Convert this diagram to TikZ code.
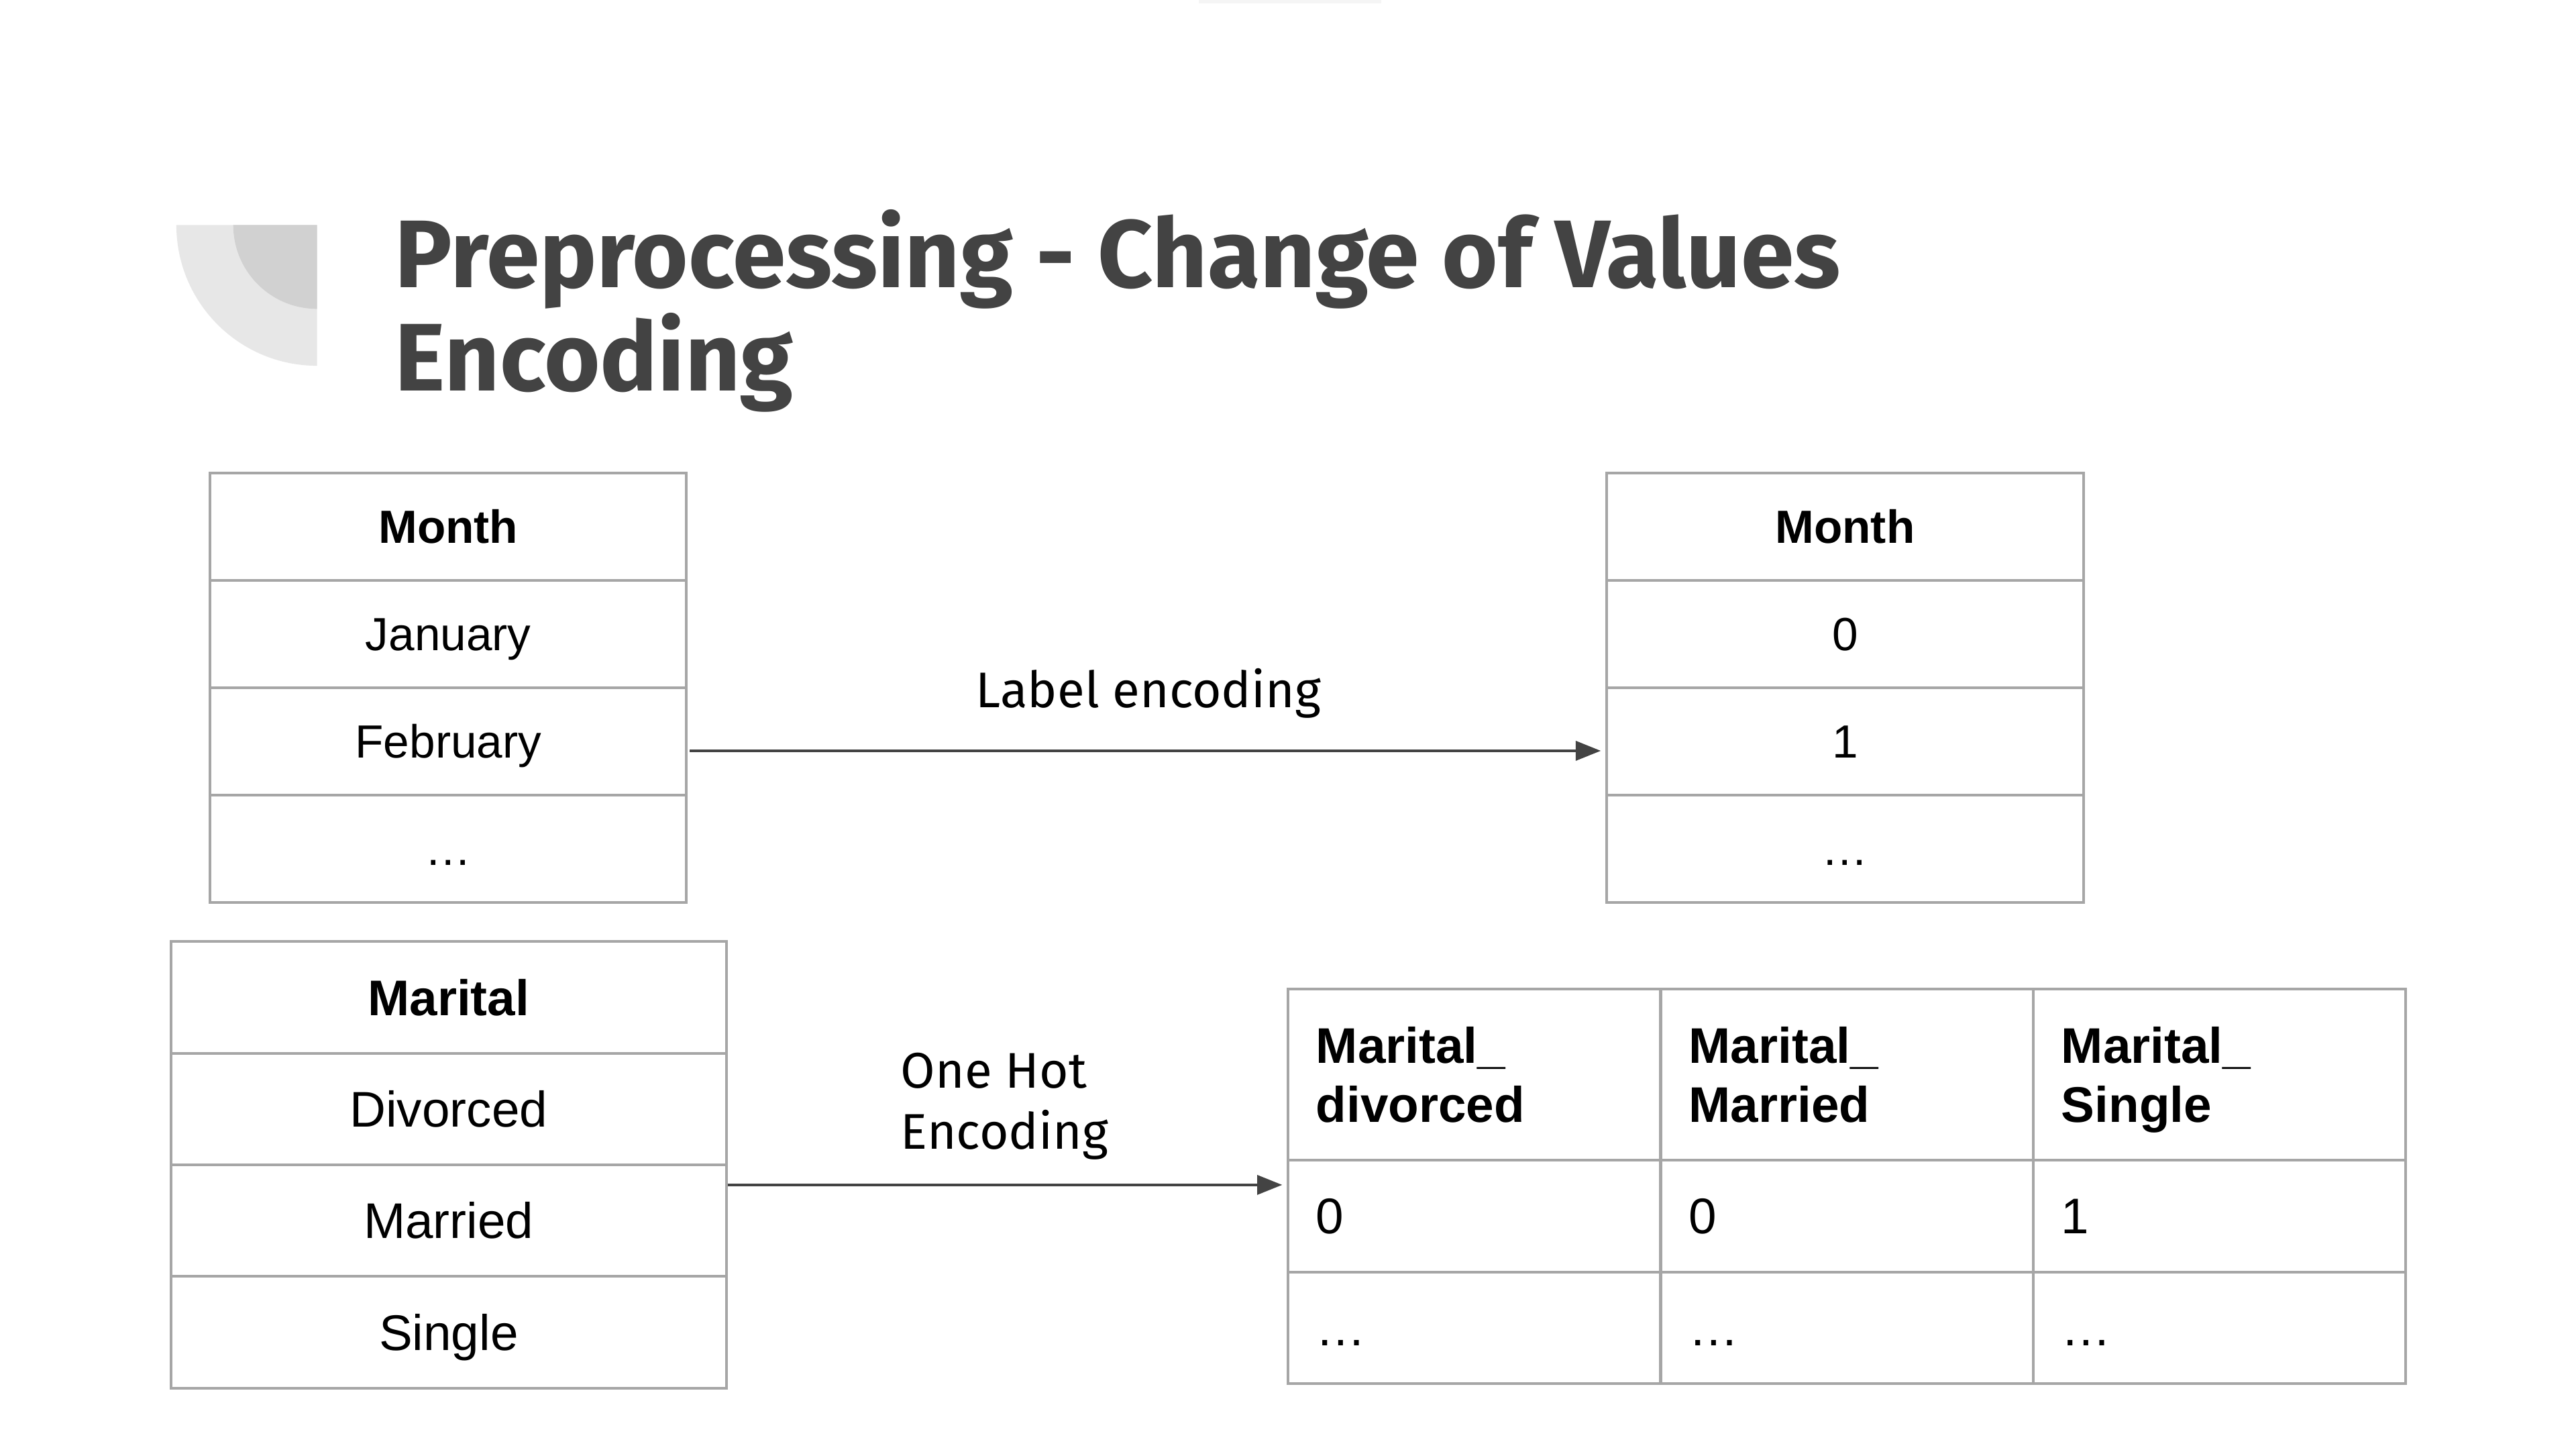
\documentclass[tikz,border=0pt]{standalone}
\usepackage{fontspec}
\setmainfont{Liberation Sans}
\newfontfamily\enctitlefont{Fira Sans}
\newfontfamily\enclabelfont{Fira Sans}
\usetikzlibrary{arrows.meta,positioning}
\definecolor{EncInk}{RGB}{67,67,67}
\definecolor{EncGrid}{RGB}{166,166,166}
\definecolor{EncDecoLight}{RGB}{231,231,231}
\definecolor{EncDecoDark}{RGB}{209,209,209}
\tikzset{
  enc/cell/.style={
    draw=EncGrid,
    line width=0.75pt,
    fill=white,
    inner sep=0pt,
    align=center,
    text=black,
    text height=9.3pt,
    text depth=0pt,
    font=\fontsize{13}{15}\selectfont
  },
  enc/head/.style={enc/cell, font=\fontsize{13}{15}\selectfont\bfseries},
  enc/monthcol/.style={minimum width=133.2pt, minimum height=30pt},
  enc/maritalcol/.style={minimum width=155.2pt, minimum height=31.2pt, text height=10pt, font=\fontsize{14}{16}\selectfont},
  enc/ohcell/.style={
    enc/cell,
    align=left,
    text width=88.5pt,
    inner xsep=7.8pt,
    minimum height=31.2pt,
    text height=10pt,
    font=\fontsize{14}{16.5}\selectfont
  },
  enc/ohhead/.style={enc/ohcell, minimum height=47.8pt, text depth=16.5pt, font=\fontsize{14}{16.5}\selectfont\bfseries},
  enc/arrow/.style={-{Triangle[length=7pt,width=5.4pt]}, line width=0.75pt, draw=EncInk},
  enc/label/.style={font=\enclabelfont\fontsize{14}{17}\selectfont, text=black, inner sep=0pt},
  enc/title/.style={font=\enctitlefont\bfseries\fontsize{26.85}{30}\selectfont, text=EncInk, inner sep=0pt, anchor=base west}
}
\begin{document}
\begin{tikzpicture}[x=1pt,y=-1pt]
  \useasboundingbox (0,0) rectangle (720,405);
  \fill[white] (0,0) rectangle (720,405);
  \fill[black!4] (335,0) rectangle (386,1);
  % corner mark
  \fill[EncDecoLight] (49.3,62.9) arc[start angle=180,end angle=90,radius=39.3] -- (88.6,62.9) -- cycle;
  \fill[EncDecoDark] (65.2,62.9) arc[start angle=180,end angle=90,radius=23.4] -- (88.6,62.9) -- cycle;
  \node[enc/title] (title) at (110.2,80.4) {Preprocessing - Change of Values};
  \node[enc/title] (titleb) at (110.2,109.3) {Encoding};
  % month, before and after
  \node[enc/head, enc/monthcol] (mL1) at (125.3,147.2) {Month};
  \node[enc/cell, enc/monthcol] (mL2) at (125.3,177.2) {January};
  \node[enc/cell, enc/monthcol] (mL3) at (125.3,207.1) {February};
  \node[enc/cell, enc/monthcol] (mL4) at (125.3,237.1) {…};
  \node[enc/head, enc/monthcol] (mR1) at (515.7,147.2) {Month};
  \node[enc/cell, enc/monthcol] (mR2) at (515.7,177.2) {0};
  \node[enc/cell, enc/monthcol] (mR3) at (515.7,207.1) {1};
  \node[enc/cell, enc/monthcol] (mR4) at (515.7,237.1) {…};
  % marital, before and after
  \node[enc/head, enc/maritalcol, font=\fontsize{14}{16}\selectfont\bfseries] (mar1) at (125.4,278.7) {Marital};
  \node[enc/cell, enc/maritalcol] (mar2) at (125.4,309.9) {Divorced};
  \node[enc/cell, enc/maritalcol] (mar3) at (125.4,341.1) {Married};
  \node[enc/cell, enc/maritalcol] (mar4) at (125.4,372.3) {Single};
  \node[enc/ohhead] (ohd1) at (412.1,300.3) {Marital\_\\divorced};
  \node[enc/ohhead] (ohm1) at (516.3,300.3) {Marital\_\\Married};
  \node[enc/ohhead] (ohs1) at (620.4,300.3) {Marital\_\\Single};
  \node[enc/ohcell] (ohd2) at (412.1,339.8) {0};
  \node[enc/ohcell] (ohm2) at (516.3,339.8) {0};
  \node[enc/ohcell] (ohs2) at (620.4,339.8) {1};
  \node[enc/ohcell] (ohd3) at (412.1,371.0) {…};
  \node[enc/ohcell] (ohm3) at (516.3,371.0) {…};
  \node[enc/ohcell] (ohs3) at (620.4,371.0) {…};
  % encodings
  \coordinate (lblA) at ([yshift=-2.7pt]mL3.east);
  \coordinate (ohA) at ([yshift=10pt]mar3.east);
  \draw[enc/arrow, shorten <=0.5pt, shorten >=1.3pt] (lblA) -- (lblA -| mR3.west);
  \draw[enc/arrow, shorten >=1.3pt] (ohA) -- (ohA -| ohd2.west);
  \node[enc/label] (lbltext) at (321,193.8) {Label encoding};
  \node[enc/label, align=left, anchor=west] (ohtext) at (251.6,309.2) {One Hot\\Encoding};
\end{tikzpicture}
\end{document}
